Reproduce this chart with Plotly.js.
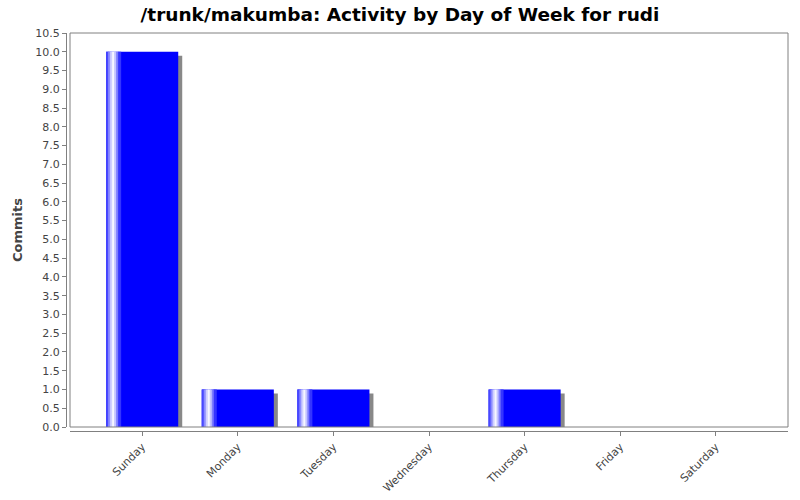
<!DOCTYPE html>
<html>
<head>
<meta charset="utf-8">
<script src="https://cdn.plot.ly/plotly-3.0.1.min.js"></script>
<style>
  html, body { margin: 0; padding: 0; background: #fff; }
  #plot { width: 800px; height: 500px; }
</style>
</head>
<body>
<div id="plot"></div>
<script>
// commits per weekday
const days = ['Sunday', 'Monday', 'Tuesday', 'Wednesday', 'Thursday', 'Friday', 'Saturday'];
const commits = [10, 1, 1, 0, 1, 0, 0];

const chartTitle = '/trunk/makumba: Activity by Day of Week for rudi';
const yTitle = 'Commits';

// geometry of the plot area, in pixels
const catPx = 95.5;          // pixels per category
const unitPx = 394 / 10.5;   // pixels per commit
const barWidth = 0.754;
const barOffset = -barWidth / 2;
const px = 1 / catPx;

// highlight strips near the left edge of each bar (fake gradient)
const stripColors = ['#4848ff', '#8c8cff', '#d0d0ff', '#f6f6ff', '#c4c4ff', '#7c7cff', '#3434ff'];

const font = 'DejaVu Sans, Verdana, sans-serif';

const shadow = {
  type: 'bar',
  x: days,
  y: commits,
  base: -4 / unitPx,
  width: barWidth,
  offset: barOffset + 4 * px,
  marker: {color: '#888888', line: {width: 0}},
  hoverinfo: 'skip'
};

const main = {
  type: 'bar',
  x: days,
  y: commits,
  width: barWidth,
  offset: barOffset,
  marker: {color: '#0000ff', line: {width: 0}},
  hoverinfo: 'skip'
};

// strips overlap a little so no seams show between them
const strips = stripColors.map((c, i) => ({
  type: 'bar',
  x: days,
  y: commits,
  width: 3 * px,
  offset: barOffset + i * 2 * px,
  marker: {color: c, line: {width: 0}},
  hoverinfo: 'skip'
}));

const layout = {
  width: 800,
  height: 500,
  margin: {l: 60, r: 12, t: 33, b: 69},
  paper_bgcolor: '#ffffff',
  plot_bgcolor: '#ffffff',
  showlegend: false,
  barmode: 'overlay',
  font: {family: font, size: 11, color: '#444444'},
  title: {
    text: '<b>' + chartTitle + '</b>',
    font: {family: font, size: 18.5, color: '#000000'},
    x: 0.5, xanchor: 'center',
    y: 1 - 15 / 500, yanchor: 'middle'
  },
  xaxis: {
    type: 'category',
    domain: [10 / 728, 1],
    anchor: 'free',
    position: 0,
    range: [-0.755, 6.755],
    showline: true,
    linecolor: '#808080',
    linewidth: 1,
    ticks: 'outside',
    ticklen: 4,
    tickcolor: '#808080',
    tickangle: -45,
    tickfont: {family: font, size: 11, color: '#444444'},
    showgrid: false,
    zeroline: false,
    fixedrange: true
  },
  yaxis: {
    domain: [4 / 398, 1],
    anchor: 'free',
    position: 6 / 728,
    range: [0, 10.5],
    dtick: 0.5,
    tick0: 0,
    tickformat: '.1f',
    showline: true,
    linecolor: '#808080',
    linewidth: 1,
    ticks: 'outside',
    ticklen: 4,
    tickcolor: '#808080',
    tickfont: {family: font, size: 11, color: '#444444'},
    showgrid: false,
    zeroline: false,
    fixedrange: true,
    title: {
      text: '<b>' + yTitle + '</b>',
      font: {family: font, size: 13, color: '#444444'},
      standoff: 8
    }
  },
  shapes: [{
    type: 'rect',
    xref: 'x domain', yref: 'y domain',
    x0: 0, x1: 1, y0: 0, y1: 1,
    line: {color: '#808080', width: 1},
    fillcolor: 'rgba(0,0,0,0)',
    layer: 'above'
  }]
};

Plotly.newPlot('plot', [shadow, main, ...strips], layout, {displayModeBar: false, staticPlot: true});
</script>
</body>
</html>
